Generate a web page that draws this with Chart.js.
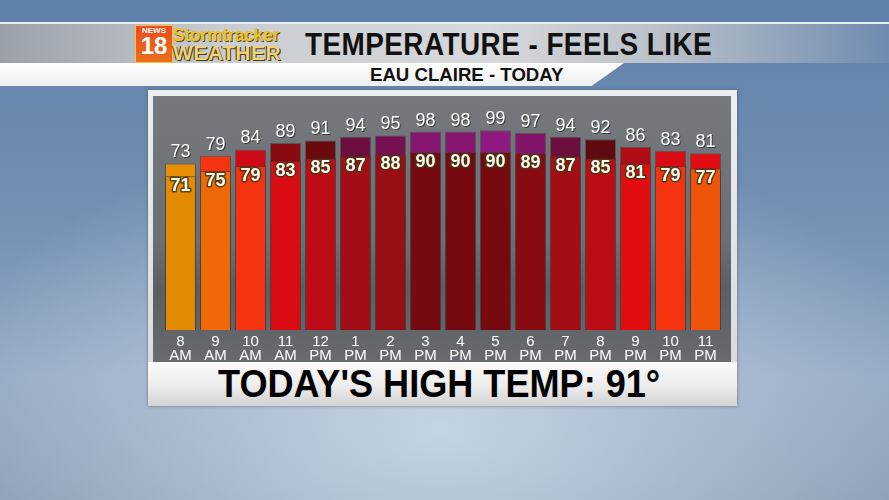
<!DOCTYPE html>
<html>
<head>
<meta charset="utf-8">
<script src="https://cdn.jsdelivr.net/npm/chart.js@4.4.0/dist/chart.umd.min.js"></script>
<style>
  html, body { margin: 0; padding: 0; }
  body {
    width: 889px; height: 500px; overflow: hidden; position: relative;
    font-family: "Liberation Sans", Arial, sans-serif;
    background:
      radial-gradient(ellipse 520px 300px at 440px 430px, rgba(200,214,229,0.95), rgba(200,214,229,0) 100%),
      linear-gradient(180deg, #5f80a9 0%, #7591b4 45%, #93a8c2 75%, #8a9cb3 100%);
  }
  #topline { position: absolute; left: 0; top: 22px; width: 889px; height: 2px; background: #e8eef5; }
  #band {
    position: absolute; left: 0; top: 24px; width: 889px; height: 39px;
    background: linear-gradient(90deg, #9aa1a9 0%, #c9ccd0 25%, #d6d8db 55%, #b9c0c8 75%, rgba(120,145,180,0.6) 100%);
  }
  #band2 {
    position: absolute; left: 0; top: 63px; width: 624px; height: 23px;
    background: linear-gradient(180deg, #ffffff 0%, #eeeeee 100%);
    clip-path: polygon(0 0, 100% 0, 94.8% 100%, 0 100%);
  }
  #title {
    position: absolute; left: 305px; top: 27px; font-size: 31px; font-weight: bold;
    color: #111; transform: scaleX(0.9); transform-origin: left top; white-space: nowrap;
    letter-spacing: 0.5px;
  }
  #subtitle {
    position: absolute; left: 370px; top: 64px; font-size: 19px; font-weight: bold;
    color: #111; transform: scaleX(0.98); transform-origin: left top; white-space: nowrap;
  }
  #logo { position: absolute; left: 135px; top: 25px; width: 162px; height: 37px; }
  #news {
    position: absolute; left: 0; top: 0; width: 36px; height: 36px;
    background: linear-gradient(180deg, #f04a1c, #e8701a); border: 1px solid #f6c040;
    color: #fff; font-weight: bold; text-align: center; line-height: 1;
  }
  #news .n { font-size: 8px; display: block; margin-top: 1px; }
  #news .e { font-size: 24px; display: block; margin-top: -1px; }
  #storm {
    position: absolute; left: 38px; top: -1px; font-size: 19px; font-weight: bold;
    color: #f2c322; transform: scaleX(0.9); transform-origin: left top; white-space: nowrap;
    text-shadow: 1px 1px 0 #5a4a10;
  }
  #weather {
    position: absolute; left: 38px; top: 17px; font-size: 20px; font-weight: bold;
    color: #efd27a; transform: scaleX(1.05); transform-origin: left top; white-space: nowrap;
    text-shadow: 1px 1px 0 #4a3a10, -1px 0 0 #4a3a10;
    letter-spacing: 0.5px;
  }
  #panel {
    position: absolute; left: 148px; top: 90px; width: 589px; height: 316px;
    background: linear-gradient(180deg, #eceef0, #d6d9dc);
    box-shadow: 0 0 3px rgba(40,50,70,0.5);
  }
  #inner {
    position: absolute; left: 5px; top: 6px; width: 578px; height: 266px;
    background: linear-gradient(180deg, #75797e 0%, #6b6f74 55%, #5b5f64 72%, #676a6f 100%);
  }
  #footer {
    position: absolute; left: 0; top: 272px; width: 589px; height: 44px;
    background: linear-gradient(180deg, #fafafa 0%, #ececec 55%, #d2d2d2 100%);
  }
  #high {
    position: absolute; left: 70px; top: 1px; font-size: 38px; font-weight: bold;
    color: #000; white-space: nowrap; transform: scaleX(0.95); transform-origin: left top;
  }
</style>
</head>
<body>
<div id="topline"></div>
<div id="band"></div>
<div id="band2"></div>
<div id="logo">
  <div id="news"><span class="n">NEWS</span><span class="e">18</span></div>
  <div id="storm">Stormtracker</div>
  <div id="weather">WEATHER</div>
</div>
<div id="title">TEMPERATURE - FEELS LIKE</div>
<div id="subtitle">EAU CLAIRE - TODAY</div>
<div id="panel">
  <div id="inner"><canvas id="myChart"></canvas></div>
  <div id="footer"><div id="high">TODAY'S HIGH TEMP: 91°</div></div>
</div>
<script>
// hours
const hours = ["8", "9", "10", "11", "12", "1", "2", "3", "4", "5", "6", "7", "8", "9", "10", "11"];
const ampm = ["AM", "AM", "AM", "AM", "PM", "PM", "PM", "PM", "PM", "PM", "PM", "PM", "PM", "PM", "PM", "PM"];
// temperature and feels like
const temps = [71, 75, 79, 83, 85, 87, 88, 90, 90, 90, 89, 87, 85, 81, 79, 77];
const feelsLike = [73, 79, 84, 89, 91, 94, 95, 98, 98, 99, 97, 94, 92, 86, 83, 81];

// colour by degree
const colorStops = [
  [71, "#e38a00"], [73, "#e88e00"], [75, "#ef6a06"], [77, "#f0540a"], [79, "#f5330e"],
  [81, "#e10d10"], [83, "#d90c13"], [84, "#ce0a18"], [85, "#bd0c15"], [86, "#b00c16"],
  [87, "#a30d14"], [88, "#990d15"], [89, "#880b12"], [90, "#760a0f"], [91, "#6a0a0e"],
  [92, "#5f0910"], [94, "#6c0f3e"], [95, "#771050"], [97, "#82156a"], [98, "#861570"],
  [99, "#8e1a80"]
];
function colorFor(v) {
  let c = colorStops[0][1];
  colorStops.forEach((s) => { if (v >= s[0]) c = s[1]; });
  return c;
}

const labelPlugin = {
  id: "barLabels",
  afterDatasetsDraw(chart) {
    const ctx = chart.ctx;
    const tMeta = chart.getDatasetMeta(0);
    const fMeta = chart.getDatasetMeta(1);
    ctx.save();
    ctx.textAlign = "center";
    // feels like above the bar
    ctx.font = "18px 'Liberation Sans', Arial, sans-serif";
    ctx.textBaseline = "bottom";
    fMeta.data.forEach((bar, i) => {
      ctx.fillStyle = "rgba(30,30,30,0.7)";
      ctx.fillText(feelsLike[i], bar.x + 1, bar.y - 1);
      ctx.fillStyle = "#ffffff";
      ctx.fillText(feelsLike[i], bar.x, bar.y - 2);
    });
    // temperature inside the bar
    ctx.font = "bold 18px 'Liberation Sans', Arial, sans-serif";
    ctx.textBaseline = "top";
    ctx.lineJoin = "round";
    tMeta.data.forEach((bar, i) => {
      ctx.lineWidth = 3;
      ctx.strokeStyle = "rgba(70,55,20,0.85)";
      ctx.strokeText(temps[i], bar.x, bar.y + 1);
      ctx.fillStyle = "#fffdf2";
      ctx.fillText(temps[i], bar.x, bar.y + 1);
    });
    ctx.restore();
  }
};

var ctx = document.getElementById("myChart").getContext("2d");
var myChart = new Chart(ctx, {
  type: "bar",
  data: {
    labels: hours.map((h, i) => [h, ampm[i]]),
    datasets: [
      {
        label: "Temperature",
        data: temps,
        yAxisID: "y",
        base: -50,
        grouped: false,
        backgroundColor: temps.map(colorFor),
        borderColor: "rgba(60,60,60,0.55)",
        borderWidth: 1,
        borderSkipped: "bottom",
      },
      {
        label: "Feels Like",
        data: feelsLike,
        yAxisID: "y2",
        base: -58,
        grouped: false,
        backgroundColor: feelsLike.map(colorFor),
        borderColor: "rgba(60,60,60,0.55)",
        borderWidth: 1,
        borderSkipped: "bottom",
      },
    ],
  },
  options: {
    responsive: true,
    maintainAspectRatio: false,
    animation: false,
    layout: { padding: { left: 10, right: 8, top: 0, bottom: 0 } },
    plugins: { legend: { display: false }, tooltip: { enabled: false } },
    datasets: { bar: { barPercentage: 0.886, categoryPercentage: 1 } },
    scales: {
      x: {
        grid: { display: false, drawTicks: false },
        border: { display: false },
        afterFit: (s) => { s.height = 32; },
        ticks: {
          color: "#ffffff",
          padding: 5,
          maxRotation: 0,
          autoSkip: false,
          font: { family: "'Liberation Sans', Arial, sans-serif", size: 15, lineHeight: 0.92 },
        },
      },
      y: { display: false, min: -50, max: 134 },
      y2: { display: false, min: -58, max: 126 },
    },
  },
  plugins: [labelPlugin],
});
</script>
</body>
</html>
